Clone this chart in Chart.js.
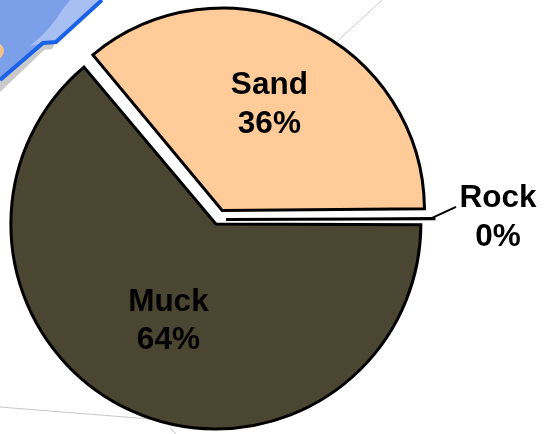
<!DOCTYPE html>
<html>
<head>
<meta charset="utf-8">
<script src="https://cdn.jsdelivr.net/npm/chart.js@4.4.1/dist/chart.umd.min.js"></script>
<style>
  html, body { margin: 0; padding: 0; background: #ffffff; }
  #wrap { position: relative; width: 547px; height: 434px; }
</style>
</head>
<body>
<div id="wrap"><canvas id="chart"></canvas></div>
<script>
const labels = ["Muck", "Sand", "Rock"];
const shares = [64, 36, 0.1];   // Rock shows as 0% on the slide
const fills = ["#4b4631", "#ffcc99", "#9b9b9b"];
const explode = [20, 40, 32];

const labelFont = "bold 31.5px 'Liberation Sans', Arial, sans-serif";

// slide artwork behind the pie (blue banner corner, thin grey rules)
const backdrop = {
  id: "backdrop",
  beforeDraw(chart) {
    const ctx = chart.ctx;
    ctx.save();
    ctx.fillStyle = "#ffffff";
    ctx.fillRect(0, 0, chart.width, chart.height);

    ctx.strokeStyle = "#c8c8c8";
    ctx.lineWidth = 1;
    ctx.beginPath();
    ctx.moveTo(382, 0); ctx.lineTo(330, 48);
    ctx.moveTo(0, 407); ctx.lineTo(150, 419);
    ctx.moveTo(170, 428); ctx.lineTo(176, 434);
    ctx.stroke();

    // shadow
    ctx.fillStyle = "#c9c9c9";
    ctx.beginPath();
    ctx.moveTo(0, 80); ctx.lineTo(43, 43); ctx.lineTo(56, 42);
    ctx.lineTo(52, 49); ctx.lineTo(44, 50); ctx.lineTo(0, 92);
    ctx.closePath(); ctx.fill();
    // banner
    ctx.fillStyle = "#7b9fe8";
    ctx.beginPath();
    ctx.moveTo(0, 0); ctx.lineTo(101, 0); ctx.lineTo(56, 42);
    ctx.lineTo(43, 43); ctx.lineTo(0, 80);
    ctx.closePath(); ctx.fill();
    ctx.fillStyle = "#a7bff3";
    ctx.beginPath();
    ctx.moveTo(101, 0); ctx.lineTo(56, 42); ctx.lineTo(43, 43);
    ctx.lineTo(30, 46); ctx.quadraticCurveTo(52, 28, 62, 10); ctx.lineTo(70, 0);
    ctx.closePath(); ctx.fill();
    ctx.strokeStyle = "#1a62e8";
    ctx.lineWidth = 4;
    ctx.beginPath();
    ctx.moveTo(0, 80); ctx.lineTo(43, 43); ctx.lineTo(56, 42); ctx.lineTo(102, 0);
    ctx.stroke();
    ctx.fillStyle = "#f4c08c";
    ctx.beginPath(); ctx.arc(-4, 51, 8, 0, Math.PI * 2); ctx.fill();
    ctx.restore();
  }
};

// category + percent text on each slice, leader line for the thin one
const sliceLabels = {
  id: "sliceLabels",
  afterDatasetsDraw(chart) {
    const ctx = chart.ctx;
    const arcs = chart.getDatasetMeta(0).data;
    const total = shares.reduce((a, b) => a + b, 0);
    ctx.save();
    ctx.font = labelFont;
    ctx.fillStyle = "#000";
    ctx.textAlign = "center";
    arcs.forEach((arc, i) => {
      const pct = Math.round(shares[i] / total * 100) + "%";
      const mid = (arc.startAngle + arc.endAngle) / 2;
      const shift = arc.options.offset / 4;
      const cx = arc.x + Math.cos(mid) * shift;
      const cy = arc.y + Math.sin(mid) * shift;
      let tx, ty;
      if (arc.endAngle - arc.startAngle > 0.2) {
        const r = arc.outerRadius * 0.56;
        tx = cx + Math.cos(mid) * r;
        ty = cy + Math.sin(mid) * r;
      } else {
        const ex = cx + Math.cos(mid) * (arc.outerRadius + shift);
        const ey = cy + Math.sin(mid) * (arc.outerRadius + shift);
        ctx.strokeStyle = "#000";
        ctx.lineWidth = 2;
        ctx.beginPath();
        ctx.moveTo(ex - 4, ey);
        ctx.lineTo(ex + 22, ey - 12);
        ctx.stroke();
        tx = ex + 64;
        ty = ey + 3;
      }
      ctx.fillText(labels[i], tx, ty - 14.5);
      ctx.fillText(pct, tx, ty + 24);
    });
    ctx.restore();
  }
};

new Chart(document.getElementById("chart"), {
  type: "pie",
  data: {
    labels: labels,
    datasets: [{
      data: shares,
      backgroundColor: fills,
      borderColor: "#000000",
      borderWidth: 3,
      borderJoinStyle: "miter",
      offset: explode
    }]
  },
  options: {
    responsive: true,
    maintainAspectRatio: false,
    animation: false,
    events: [],
    rotation: 90,
    radius: 200,
    layout: { padding: { top: 5, left: 0, right: 111, bottom: 0 } },
    plugins: {
      legend: { display: false },
      tooltip: { enabled: false }
    }
  },
  plugins: [backdrop, sliceLabels]
});
</script>
</body>
</html>
